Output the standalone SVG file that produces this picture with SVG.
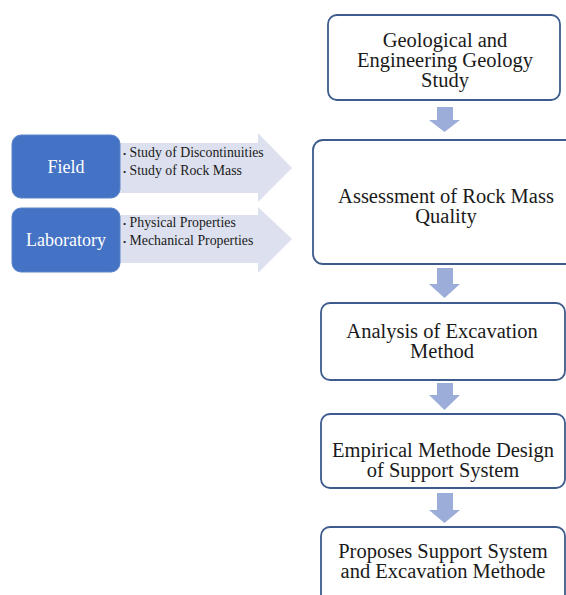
<svg xmlns="http://www.w3.org/2000/svg" width="566" height="595" viewBox="0 0 566 595">
<style>
.box{fill:#ffffff;stroke:#3d5b8c;stroke-width:1.8}
.src{fill:#4472c4;stroke:#5b84c9;stroke-width:1}
.big{fill:#dde1ef}
.down{fill:#9badd8}
.t{font-family:"Liberation Serif","Times New Roman",serif;font-size:20.5px;fill:#1a1a1a;text-anchor:middle}
.w{font-family:"Liberation Serif","Times New Roman",serif;font-size:18px;fill:#ffffff;text-anchor:middle}
.s{font-family:"Liberation Serif","Times New Roman",serif;font-size:13.8px;fill:#1a1a1a}
.b{font-size:9px}
</style>
<rect width="566" height="595" fill="#ffffff"/>
<g id="connectors">
  <path class="big" d="M118,143 H258 V133 L292,168 L258,202 V193 H118 Z"/>
  <path class="big" d="M118,215 H258 V207 L292,239 L258,273 V263 H118 Z"/>
  <path class="down" d="M437,107 H453 V120 H460 L444.5,132 L429,120 H437 Z"/>
  <path class="down" d="M437,268 H453 V284 H460 L444.5,298 L429,284 H437 Z"/>
  <path class="down" d="M437,383 H453 V395 H460 L444.5,410 L429,395 H437 Z"/>
  <path class="down" d="M437,493 H453 V510 H460 L444.5,523 L429,510 H437 Z"/>
</g>
<g id="field">
  <rect class="src" x="12" y="135" width="108" height="63" rx="9"/>
  <text class="w" x="66" y="173">Field</text>
</g>
<g id="field-items">
  <text class="s" x="123" y="157"><tspan class="b">•</tspan> Study of Discontinuities</text>
  <text class="s" x="123" y="175"><tspan class="b">•</tspan> Study of Rock Mass</text>
</g>
<g id="laboratory">
  <rect class="src" x="12" y="208" width="108" height="64" rx="9"/>
  <text class="w" x="66" y="246">Laboratory</text>
</g>
<g id="laboratory-items">
  <text class="s" x="123" y="227"><tspan class="b">•</tspan> Physical Properties</text>
  <text class="s" x="123" y="245"><tspan class="b">•</tspan> Mechanical Properties</text>
</g>
<g id="geology-study">
  <rect class="box" x="328" y="15" width="232" height="85" rx="9"/>
  <text class="t" x="445" y="47">Geological and</text>
  <text class="t" x="445" y="67">Engineering Geology</text>
  <text class="t" x="445" y="87">Study</text>
</g>
<g id="rock-mass-quality">
  <rect class="box" x="313" y="140" width="266" height="124" rx="10"/>
  <text class="t" x="446" y="203">Assessment of Rock Mass</text>
  <text class="t" x="446" y="223">Quality</text>
</g>
<g id="excavation-method">
  <rect class="box" x="321" y="303" width="244" height="77" rx="9"/>
  <text class="t" x="442" y="338">Analysis of Excavation</text>
  <text class="t" x="442" y="358">Method</text>
</g>
<g id="empirical-design">
  <rect class="box" x="321" y="414" width="244" height="74" rx="9"/>
  <text class="t" x="443" y="457">Empirical Methode Design</text>
  <text class="t" x="443" y="477">of Support System</text>
</g>
<g id="proposed-system">
  <rect class="box" x="321" y="527" width="244" height="80" rx="9"/>
  <text class="t" x="443" y="558">Proposes Support System</text>
  <text class="t" x="443" y="578">and Excavation Methode</text>
</g>
</svg>
